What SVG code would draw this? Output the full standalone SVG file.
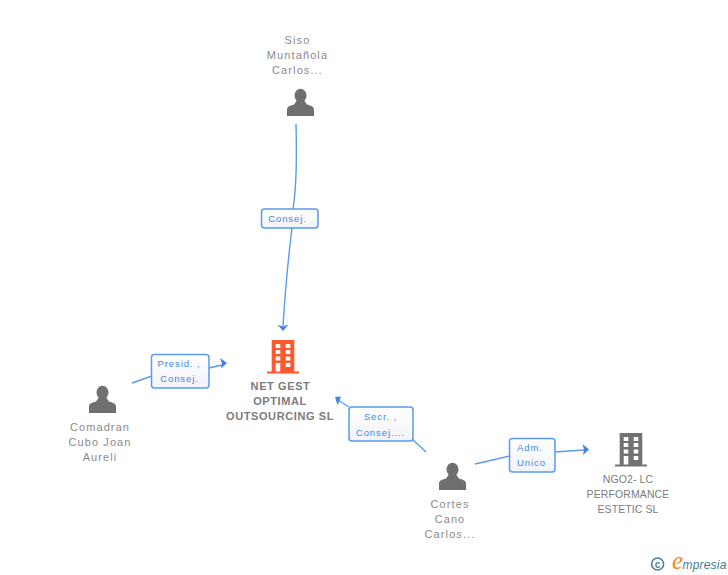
<svg xmlns="http://www.w3.org/2000/svg" width="728" height="575" viewBox="0 0 728 575">
<style>
text{font-family:"Liberation Sans",Arial,sans-serif;text-anchor:middle}
.n{font-size:11px;fill:#8a8a8a;letter-spacing:1.100px}
.c{font-size:10.500px;fill:#7c7c7c;letter-spacing:.1px}
.b{font-size:11px;fill:#7c7c7c;font-weight:bold;letter-spacing:.6px}
.l{font-size:9.500px;fill:#3d85e0;letter-spacing:.9px}
.box{fill:url(#g);stroke:#5a9bea;stroke-width:1.500}
.e{fill:none;stroke:#5a9bea;stroke-width:1.400}
.a{fill:#3d85e0}
.p{fill:#6f6f6f}
</style>
<defs>
<linearGradient id="g" x1="0" y1="0" x2="0" y2="1"><stop offset="0" stop-color="#ffffff"/><stop offset="1" stop-color="#f1f4f8"/></linearGradient>
<g id="person"><ellipse cx="0" cy="-20.500" rx="6" ry="6.800"/><path d="M-13.500 0V-6.500C-13.500-9.500-10-10.500-6.500-11.500L-4-15H4L6.500-11.500C10-10.500 13.500-9.500 13.500-6.500V0Z"/></g>
<g id="bld"><path d="M-11.300-1.500V-33H11.300V-1.500H16V.5H-16V-1.500ZM-7.300-29V-25H-2.700V-29ZM2.700-29V-25H7.300V-29ZM-7.300-23V-19H-2.700V-23ZM2.700-23V-19H7.300V-23ZM-7.300-16.500V-12.500H-2.700V-16.500ZM2.700-16.500V-12.500H7.300V-16.500ZM-7.300-10V-1.500H-2.700V-10ZM2.700-10V-6H7.300V-10Z" fill-rule="evenodd"/></g>
</defs>
<g id="connectors">
<path class="e" d="M296 124C297 160 296 190 293 209"/>
<path class="e" d="M292 228C288 260 285 295 283 326"/>
<path class="a" d="M277.500 324.500L283 326.500L288.500 324.500L283 331Z"/>
<path class="e" d="M132 383L152 376"/>
<path class="e" d="M209 368L222 365"/>
<path class="a" d="M220 358L222 363.500L221 368.500L227 363Z"/>
<path class="e" d="M426 452L412 439"/>
<path class="e" d="M349 407L338 400"/>
<path class="a" d="M335 397L341 396.500L339.500 400.500L337.500 405Z"/>
<path class="e" d="M475 464L510 456"/>
<path class="e" d="M555 452L584 450"/>
<path class="a" d="M582.500 444L584 449.500L583 455L589 449.500Z"/>
</g>
<g id="node-siso"><text class="n" x="297.500" y="44">Siso</text><text class="n" x="297.500" y="59">Muntañola</text><text class="n" x="297.500" y="74">Carlos...</text><use href="#person" x="300.500" y="116" class="p"/></g>
<g id="node-net"><use href="#bld" x="283" y="373" fill="#fb5a2e"/><text class="b" x="280.500" y="390">NET GEST</text><text class="b" x="280" y="405">OPTIMAL</text><text class="b" x="280" y="420">OUTSOURCING SL</text></g>
<g id="node-comadran"><use href="#person" x="102.500" y="413" class="p"/><text class="n" x="100" y="431">Comadran</text><text class="n" x="100" y="446">Cubo Joan</text><text class="n" x="100" y="461">Aureli</text></g>
<g id="node-cortes"><use href="#person" x="452.500" y="490" class="p"/><text class="n" x="450" y="508">Cortes</text><text class="n" x="450" y="523">Cano</text><text class="n" x="450" y="538">Carlos...</text></g>
<g id="node-ngo2"><use href="#bld" x="631" y="466" fill="#727272"/><text class="c" x="628" y="483">NGO2- LC</text><text class="c" x="628" y="498">PERFORMANCE</text><text class="c" x="628" y="513">ESTETIC SL</text></g>
<g id="label-consej"><rect class="box" x="261.500" y="209" width="56.500" height="19" rx="3"/><text class="l" x="287.500" y="222">Consej.</text></g>
<g id="label-presid"><rect class="box" x="151.500" y="354.500" width="57.500" height="33.500" rx="3"/><text class="l" x="179" y="367">Presid. ,</text><text class="l" x="179.500" y="382">Consej.</text></g>
<g id="label-secr"><rect class="box" x="349" y="407" width="64" height="34" rx="3"/><text class="l" x="380.500" y="420">Secr. ,</text><text class="l" x="380.500" y="436">Consej....</text></g>
<g id="label-adm"><rect class="box" x="509.500" y="438.500" width="45.500" height="33.500" rx="3"/><text class="l" x="530" y="451">Adm.</text><text class="l" x="531.500" y="466">Unico</text></g>
<g id="logo"><circle cx="657.600" cy="564" r="6" fill="none" stroke="#4b8298" stroke-width="1.600"/><text x="657.600" y="567.500" style="font-size:10px;fill:#4b8298;font-weight:bold">c</text><text x="677.500" y="569" style="font-family:'Liberation Serif',serif;font-style:italic;font-size:25px;fill:#f08a1d">e</text><text x="704.500" y="569" style="font-style:italic;font-size:12px;fill:#3f7c95;letter-spacing:.2px">mpresia</text></g>
</svg>
